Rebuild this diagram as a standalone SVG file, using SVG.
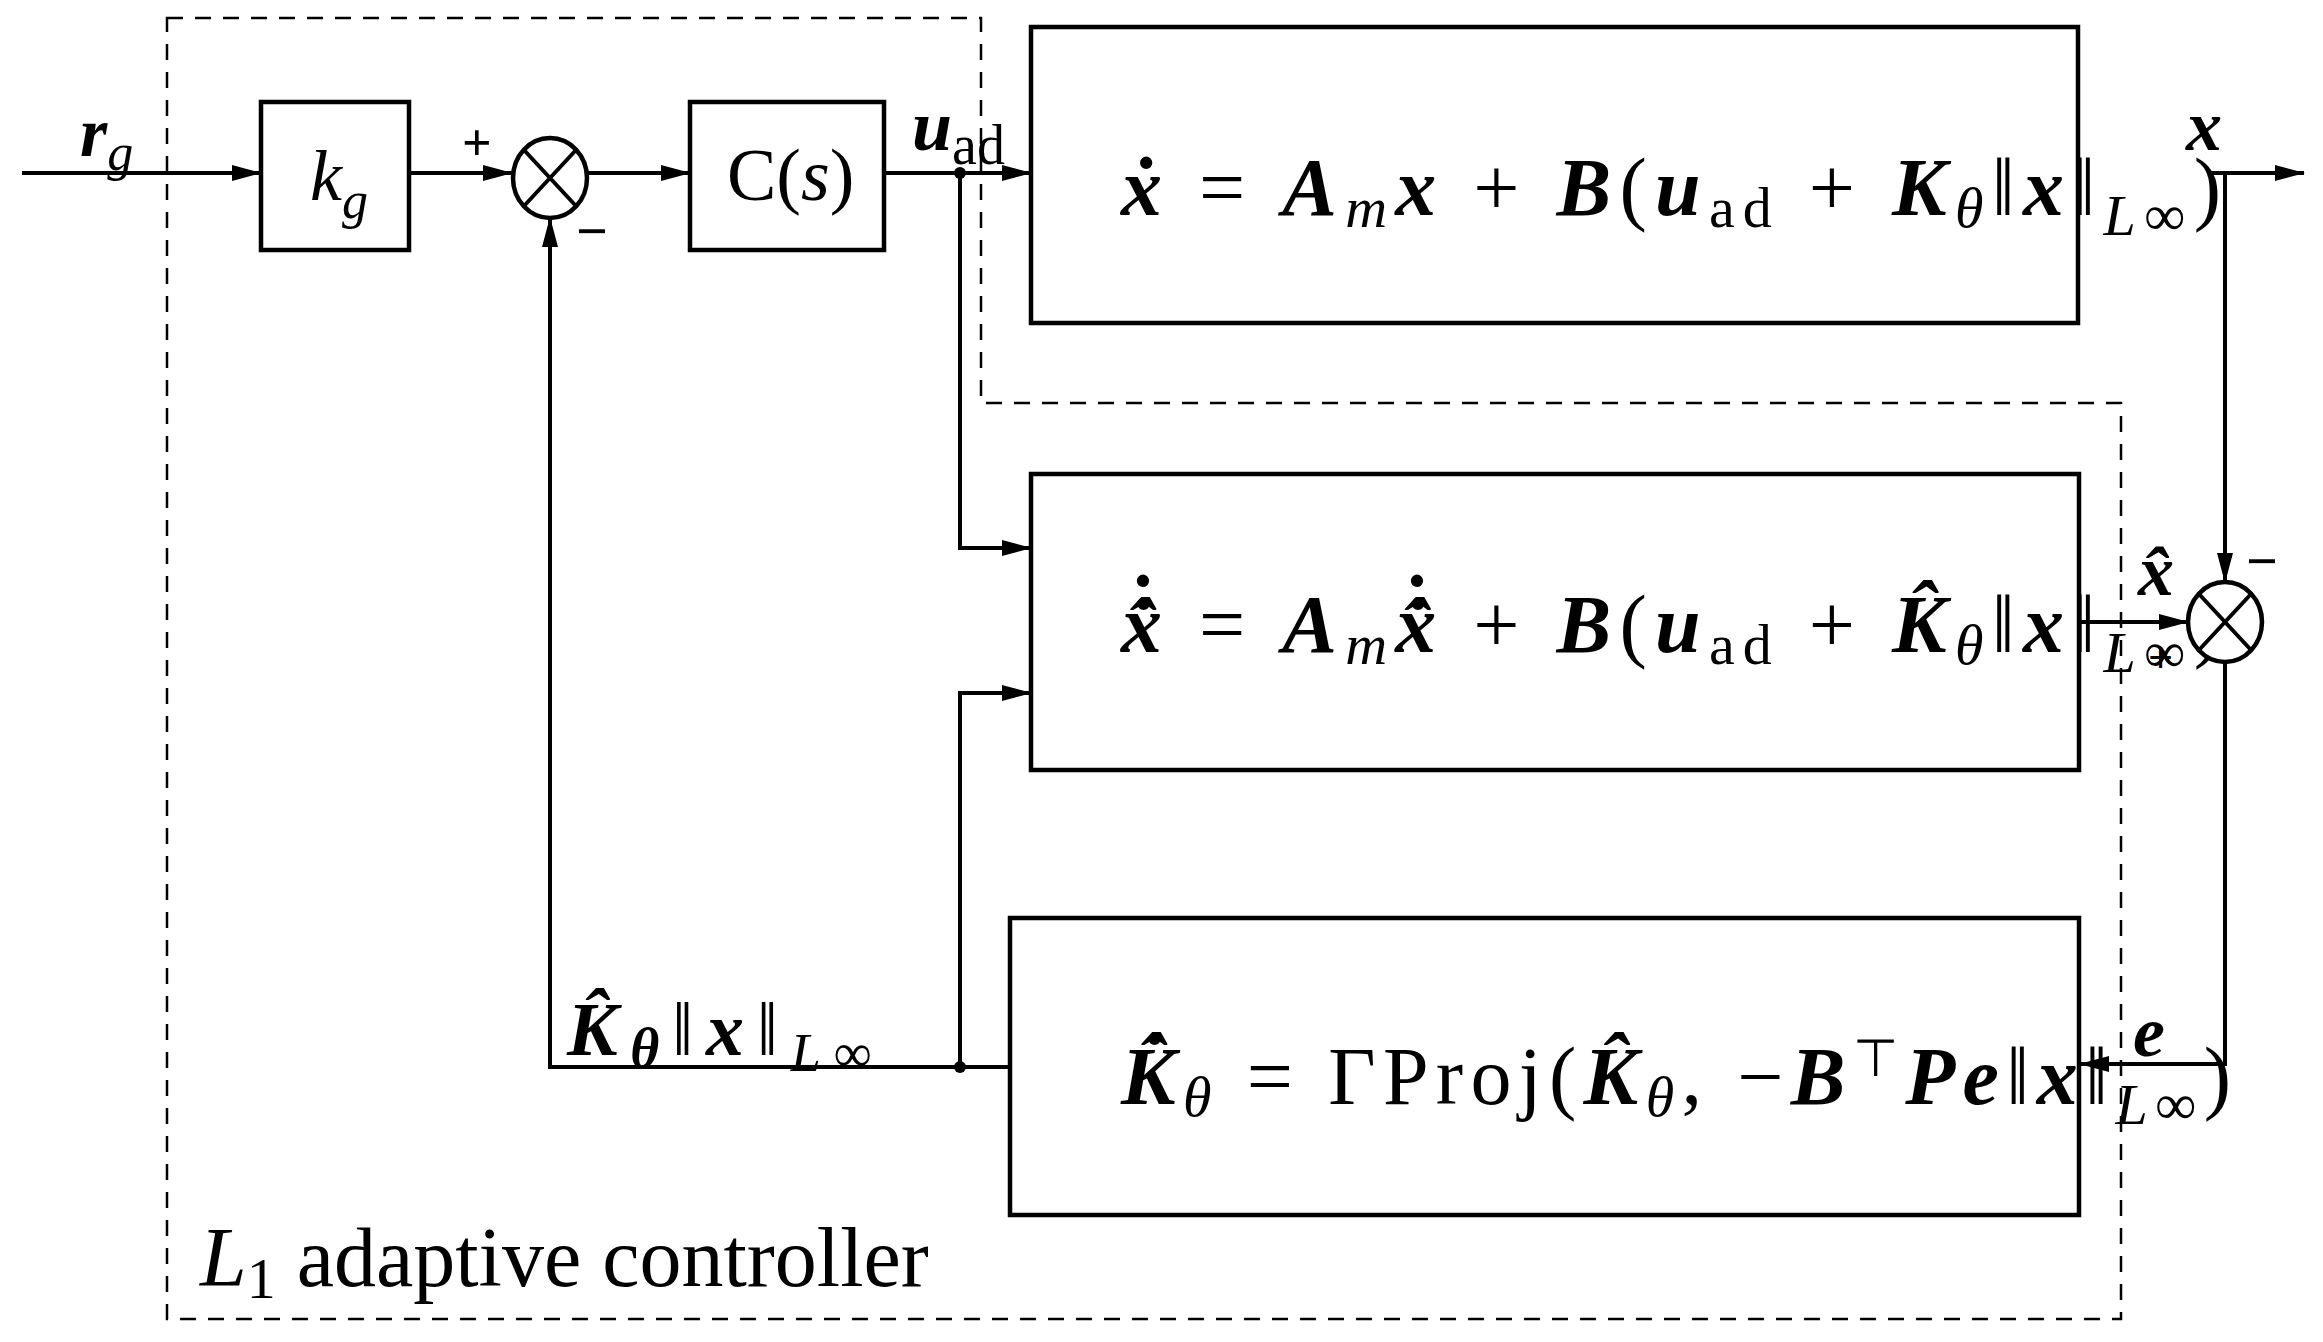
<svg xmlns="http://www.w3.org/2000/svg" width="2323" height="1342" viewBox="0 0 2323 1342">
<style>
.b{fill:#fff;stroke:#000;stroke-width:4.5}
.w{fill:none;stroke:#000;stroke-width:4}
text{font-family:"Liberation Serif",serif;fill:#000}
.bi{font-weight:bold;font-style:italic}
.it{font-style:italic}
.eq{font-size:82px}
</style>
<defs><marker id="ab" markerWidth="30" markerHeight="16" refX="29" refY="8" orient="auto" markerUnits="userSpaceOnUse"><path d="M0,0 L30,8 L0,16 Z" fill="#000"/></marker></defs>
<rect width="2323" height="1342" fill="#fff"/>
<path id="boundary" d="M167,18 L981,18 L981,403 L2121,403 L2121,1319 L167,1319 Z" fill="none" stroke="#000" stroke-width="2.5" stroke-dasharray="16,12"/>
<g id="connectors" class="w" marker-end="url(#ab)">
<path d="M22,173 L261,173"/>
<path d="M409,173 L512,173"/>
<path d="M588,173 L690,173"/>
<path d="M884,173 L1031,173"/>
<path d="M960,173 L960,548 L1031,548"/>
<path d="M1010,1067 L960,1067 L960,693 L1031,693"/>
<path d="M960,1067 L550,1067 L550,218"/>
<path d="M2080,622 L2188,622"/>
<path d="M2210,173 L2304,173"/>
<path d="M2225,173 L2225,582"/>
<path d="M2225,662 L2225,1064 L2080,1064"/>
</g>
<g id="dots"><circle cx="960" cy="173" r="6"/><circle cx="960" cy="1067" r="6"/></g>
<g id="kg"><rect class="b" x="261" y="102" width="148" height="148"/><text x="310" y="200" font-size="72" class="it">k<tspan font-size="52" dy="18">g</tspan></text></g>
<g id="sum1"><ellipse class="b" cx="550" cy="178" rx="37" ry="40"/><path class="w" d="M524,150 L576,206 M576,150 L524,206"/><text x="462" y="160" font-size="52" font-weight="bold" font-family="Liberation Sans,sans-serif">+</text><text x="576" y="250" font-size="56" font-weight="bold" font-family="Liberation Sans,sans-serif">−</text></g>
<g id="cs"><rect class="b" x="690" y="102" width="194" height="148"/><text x="727" y="200" font-size="74">C(<tspan class="it">s</tspan>)</text></g>
<g id="plant"><rect class="b" x="1031" y="27" width="1047" height="296"/>
<text class="eq" x="1121" y="215" textLength="1100" lengthAdjust="spacing"><tspan class="bi">ẋ</tspan> = <tspan class="bi">A</tspan><tspan class="it" font-size="58" dy="12">m</tspan><tspan class="bi" dy="-12">x</tspan> + <tspan class="bi">B</tspan>(<tspan class="bi">u</tspan><tspan font-size="58" dy="12">ad</tspan><tspan dy="-12"> + </tspan><tspan class="bi">K</tspan><tspan class="it" font-size="58" dy="12">θ</tspan><tspan dy="-12">‖</tspan><tspan class="bi">x</tspan>‖<tspan class="it" font-size="58" dy="20">L</tspan><tspan font-size="58">∞</tspan><tspan dy="-20">)</tspan></text></g>
<g id="predictor"><rect class="b" x="1031" y="474" width="1048" height="296"/>
<text class="eq" x="1121" y="652" textLength="1100" lengthAdjust="spacing"><tspan class="bi">x̂̇</tspan> = <tspan class="bi">A</tspan><tspan class="it" font-size="58" dy="12">m</tspan><tspan class="bi" dy="-12">x̂̇</tspan> + <tspan class="bi">B</tspan>(<tspan class="bi">u</tspan><tspan font-size="58" dy="12">ad</tspan><tspan dy="-12"> + </tspan><tspan class="bi">K̂</tspan><tspan class="it" font-size="58" dy="12">θ</tspan><tspan dy="-12">‖</tspan><tspan class="bi">x</tspan>‖<tspan class="it" font-size="58" dy="20">L</tspan><tspan font-size="58">∞</tspan><tspan dy="-20">)</tspan></text>
<text x="1143" y="632" font-size="82" font-weight="bold" text-anchor="middle">˙</text>
<text x="1417" y="632" font-size="82" font-weight="bold" text-anchor="middle">˙</text></g>
<g id="law"><rect class="b" x="1010" y="918" width="1069" height="297"/>
<text class="eq" x="1121" y="1104" textLength="1110" lengthAdjust="spacing"><tspan class="bi">K̂̇</tspan><tspan class="it" font-size="58" dy="12">θ</tspan><tspan dy="-12"> = ΓProj(</tspan><tspan class="bi">K̂</tspan><tspan class="it" font-size="58" dy="12">θ</tspan><tspan dy="-12">, −</tspan><tspan class="bi">B</tspan><tspan font-size="52" dy="-28">⊤</tspan><tspan class="bi" dy="28">Pe</tspan>‖<tspan class="bi">x</tspan>‖<tspan class="it" font-size="58" dy="20">L</tspan><tspan font-size="58">∞</tspan><tspan dy="-20">)</tspan></text></g>
<g id="sum2"><ellipse class="b" cx="2225" cy="622" rx="37" ry="40"/><path class="w" d="M2199,594 L2251,650 M2251,594 L2199,650"/><text x="2246" y="580" font-size="56" font-weight="bold" font-family="Liberation Sans,sans-serif">−</text><text x="2148" y="672" font-size="44" font-weight="bold" font-family="Liberation Sans,sans-serif">+</text></g>
<g id="labels">
<text x="80" y="156" font-size="70" class="bi">r<tspan class="it" font-weight="normal" font-size="52" dy="14">g</tspan></text>
<text x="912" y="150" font-size="72" class="bi">u<tspan font-weight="normal" font-style="normal" font-size="56" dy="14">ad</tspan></text>
<text x="2186" y="150" font-size="72" class="bi">x</text>
<text x="2138" y="595" font-size="72" class="bi">x̂</text>
<text x="2133" y="1056" font-size="72" class="bi">e</text>
<text x="567" y="1055" font-size="76" textLength="305" lengthAdjust="spacing"><tspan class="bi">K̂</tspan><tspan class="bi" font-size="56" dy="12">θ</tspan><tspan dy="-12">‖</tspan><tspan class="bi">x</tspan>‖<tspan class="it" font-size="54" dy="16">L</tspan><tspan font-size="54">∞</tspan></text>
<text x="200" y="1286" font-size="84"><tspan class="it">L</tspan><tspan font-size="58" dy="12">1</tspan><tspan dy="-12"> adaptive controller</tspan></text>
</g>
</svg>
